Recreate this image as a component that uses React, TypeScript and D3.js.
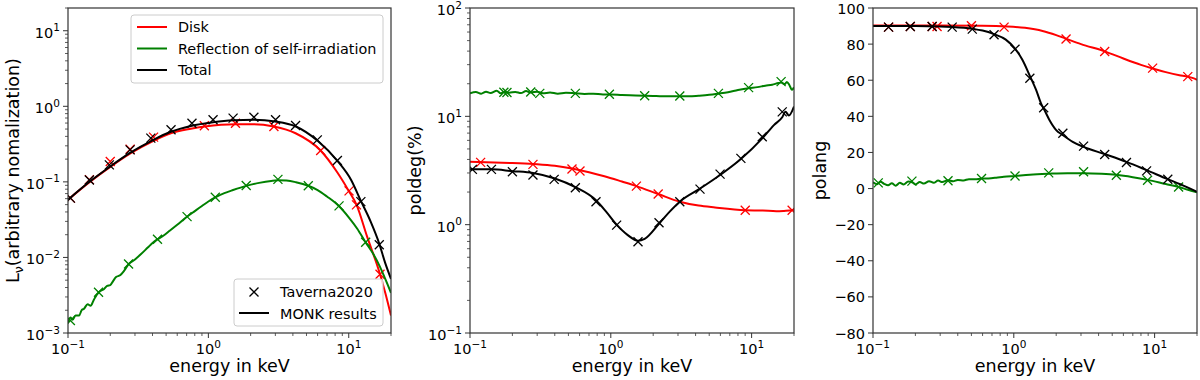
import React, { useEffect, useRef } from "react";
import * as d3 from "d3";

type Pt = [number, number];

// ---- left panel: spectrum (energy keV, L_nu) ----
const specDiskLine: Pt[] = [
  [0.1, 0.058], [0.14, 0.097], [0.2, 0.158], [0.28, 0.24], [0.4, 0.345], [0.54, 0.44],
  [0.75, 0.505], [0.94, 0.54], [1.56, 0.58], [2.1, 0.58], [2.93, 0.54], [4.18, 0.44],
  [6.3, 0.26], [8.3, 0.133], [10, 0.076], [11.35, 0.05], [13.5, 0.019], [16.7, 0.006],
  [18.2, 0.0034], [20, 0.0017],
];
const specReflLine: Pt[] = [
  [0.1, 0.00135], [0.104, 0.0016], [0.108, 0.0015], [0.113, 0.0017], [0.12, 0.0017],
  [0.125, 0.002], [0.13, 0.0021], [0.138, 0.0024], [0.145, 0.0023], [0.152, 0.0027],
  [0.16, 0.0032], [0.17, 0.0036], [0.18, 0.0038], [0.19, 0.0042], [0.2, 0.0043],
  [0.21, 0.0049], [0.22, 0.0055], [0.235, 0.0058], [0.25, 0.0066], [0.27, 0.0081],
  [0.3, 0.0094], [0.33, 0.011], [0.37, 0.0135], [0.4, 0.0155], [0.43, 0.0172],
  [0.48, 0.0195], [0.53, 0.0225], [0.6, 0.027], [0.7, 0.0342], [0.8, 0.041], [0.9, 0.048],
  [1.0, 0.055], [1.12, 0.0625], [1.3, 0.071], [1.5, 0.078], [1.86, 0.0885], [2.3, 0.097],
  [2.8, 0.103], [3.13, 0.105], [3.6, 0.104], [4.2, 0.099], [5.15, 0.089], [6, 0.078],
  [7, 0.064], [8.5, 0.048], [10, 0.034], [11.5, 0.024], [13.2, 0.0158], [15, 0.011],
  [16.7, 0.0075], [18.2, 0.0052], [20, 0.0034],
];
const specTotalLine: Pt[] = [
  [0.1, 0.058], [0.14, 0.098], [0.2, 0.16], [0.28, 0.245], [0.4, 0.355], [0.54, 0.46],
  [0.75, 0.55], [1.08, 0.617], [1.5, 0.655], [2.1, 0.665], [3, 0.63], [4.2, 0.54],
  [6, 0.35], [8.3, 0.19], [10.4, 0.106], [12.2, 0.056], [14.3, 0.03], [16.5, 0.0152],
  [18.2, 0.0084], [20, 0.0052],
];
const specDiskPts: Pt[] = [
  [0.104, 0.061], [0.142, 0.107], [0.2, 0.186], [0.277, 0.271], [0.407, 0.391],
  [0.936, 0.552], [1.56, 0.598], [2.93, 0.54], [6.31, 0.26], [10.05, 0.076],
  [11.35, 0.0496], [16.7, 0.006],
];
const specReflPts: Pt[] = [
  [0.104, 0.00146], [0.165, 0.00346], [0.27, 0.0082], [0.434, 0.0174], [0.705, 0.0347],
  [1.12, 0.0627], [1.86, 0.0894], [3.13, 0.108], [5.15, 0.089], [8.53, 0.0481], [13.2, 0.0159],
];
const specTotalPts: Pt[] = [
  [0.104, 0.061], [0.142, 0.106], [0.197, 0.168], [0.277, 0.265], [0.389, 0.379],
  [0.542, 0.489], [0.764, 0.598], [1.08, 0.663], [1.5, 0.697], [2.11, 0.718], [3.01, 0.663],
  [4.18, 0.557], [5.97, 0.36], [8.3, 0.192], [12.2, 0.0548], [16.5, 0.0147],
];

// ---- middle panel: polarisation degree (%) ----
const degDiskLine: Pt[] = [
  [0.1, 3.8], [0.2, 3.7], [0.3, 3.62], [0.4, 3.5], [0.53, 3.3], [0.7, 3.05], [0.9, 2.8],
  [1.2, 2.5], [1.52, 2.27], [2.17, 1.92], [3.09, 1.63], [4.2, 1.5], [5.5, 1.44], [9.01, 1.36],
  [12, 1.35], [15, 1.33], [17, 1.34], [19.4, 1.36], [20, 1.37],
];
const degReflLine: Pt[] = [
  [0.1, 16.3], [0.11, 16.8], [0.12, 16.2], [0.13, 16.9], [0.14, 16.4], [0.155, 17.2],
  [0.165, 16.3], [0.175, 16.9], [0.19, 16.5], [0.21, 16.8], [0.23, 16.4], [0.25, 17.1],
  [0.27, 16.6], [0.3, 16.9], [0.33, 16.3], [0.37, 16.6], [0.42, 16.2], [0.48, 16.5],
  [0.56, 16.3], [0.65, 16.1], [0.75, 16.2], [0.88, 15.9], [1.0, 15.9], [1.2, 15.7],
  [1.5, 15.6], [1.74, 15.5], [2.1, 15.4], [2.5, 15.3], [3.09, 15.3], [3.6, 15.3], [4.2, 15.5],
  [5, 15.8], [5.8, 16.2], [6.8, 16.7], [8, 17.5], [9.5, 18.2], [11, 18.6], [12.5, 19.2],
  [14, 19.6], [15.5, 20.3], [16.2, 20.5], [17.2, 19.8], [17.8, 20.8], [18.5, 19.6],
  [19.3, 17.6], [20, 18.5],
];
const degTotalLine: Pt[] = [
  [0.1, 3.24], [0.142, 3.24], [0.2, 3.12], [0.28, 3.0], [0.396, 2.68], [0.56, 2.22],
  [0.785, 1.68], [0.926, 1.32], [1.1, 1.0], [1.32, 0.8], [1.56, 0.71], [1.74, 0.74],
  [2.2, 1.02], [2.62, 1.32], [3.09, 1.63], [4.3, 2.15], [5.97, 2.87], [8.39, 4.03],
  [11.9, 6.25], [14.4, 8.3], [16.5, 9.8], [17.4, 11.0], [18.4, 10.2], [20, 12.3],
];
const degDiskPts: Pt[] = [
  [0.119, 3.76], [0.28, 3.6], [0.53, 3.26], [0.604, 3.13], [1.52, 2.27], [2.17, 1.92],
  [9.01, 1.36], [19.4, 1.36],
];
const degReflPts: Pt[] = [
  [0.174, 16.7], [0.183, 16.6], [0.27, 16.8], [0.313, 16.3], [0.56, 16.3], [0.977, 16.0],
  [1.74, 15.5], [3.09, 15.4], [5.81, 16.3], [9.52, 18.4], [16.2, 20.9],
];
const degTotalPts: Pt[] = [
  [0.104, 3.24], [0.142, 3.24], [0.2, 3.08], [0.28, 2.87], [0.396, 2.62], [0.56, 2.19],
  [0.785, 1.63], [1.1, 0.99], [1.56, 0.696], [2.2, 1.04], [3.09, 1.63], [4.3, 2.13],
  [5.97, 2.93], [8.39, 4.09], [11.9, 6.48], [16.5, 11.0],
];

// ---- right panel: polarisation angle ----
const angDiskLine: Pt[] = [
  [0.1, 90.3], [0.3, 90.3], [0.6, 90.2], [0.9, 89.8], [1.2, 89], [1.6, 87.3], [2.0, 85],
  [2.35, 83], [3, 80], [4.42, 76], [6, 72], [8, 68.5], [9.68, 66.5], [12, 64.5], [15, 62.8],
  [17.2, 62], [19, 61], [20, 60.2],
];
const angReflLine: Pt[] = [
  [0.1, 3.5], [0.107, 2.4], [0.113, 3.8], [0.12, 2.6], [0.128, 1.8], [0.136, 2.9],
  [0.145, 1.6], [0.155, 3.2], [0.165, 2.2], [0.178, 3.9], [0.19, 3.4], [0.2, 2.3],
  [0.215, 3.6], [0.23, 2.8], [0.25, 4.1], [0.27, 3.2], [0.29, 4.4], [0.31, 3.6], [0.34, 4.6],
  [0.37, 4.0], [0.4, 4.8], [0.44, 4.5], [0.48, 5.2], [0.53, 5.1], [0.59, 5.5], [0.66, 5.6],
  [0.75, 6.0], [0.85, 6.5], [1.02, 7.0], [1.3, 7.7], [1.77, 8.2], [2.4, 8.5], [3.13, 8.5],
  [4.2, 8.2], [5.35, 7.6], [7, 6.3], [8.91, 4.8], [12, 2.5], [14.8, 0.9], [17, -0.5], [20, -2],
];
const angTotalLine: Pt[] = [
  [0.1, 90.0], [0.2, 90.0], [0.3, 89.8], [0.365, 89.5], [0.507, 88.5], [0.6, 87.5],
  [0.724, 85.5], [0.877, 82.5], [1.02, 77.5], [1.15, 71.3], [1.3, 62.4], [1.44, 54.6],
  [1.56, 47.2], [1.65, 43.5], [1.79, 38], [2.0, 32.4], [2.23, 29.6], [2.62, 25.9],
  [3.13, 23.1], [4.42, 19.1], [6.31, 14.8], [8.77, 10.2], [12.4, 5.2], [15.2, 2.4],
  [17.9, 0], [20, -1.9],
];
const angDiskPts: Pt[] = [
  [0.129, 89.4], [0.184, 89.8], [0.263, 89.8], [0.285, 89.8], [0.5, 90.2], [0.853, 89.4],
  [2.35, 82.8], [4.42, 75.9], [9.68, 66.7], [17.2, 62.0],
];
const angReflPts: Pt[] = [
  [0.109, 3.15], [0.189, 4.1], [0.341, 4.3], [0.59, 5.6], [1.02, 7.0], [1.77, 8.7],
  [3.13, 9.3], [5.35, 7.4], [8.91, 4.6], [14.8, 0.9],
];
const angTotalPts: Pt[] = [
  [0.129, 89.4], [0.184, 89.8], [0.263, 89.8], [0.365, 89.4], [0.507, 88.3], [0.724, 85.2],
  [1.02, 77.2], [1.3, 61.1], [1.63, 44.8], [2.23, 30.6], [3.13, 23.5], [4.42, 18.9],
  [6.31, 14.4], [8.77, 9.8], [12.4, 5.2],
];

// ticks
const energyTickExps = [-1, 0, 1];
const specTickExps = [-3, -2, -1, 0, 1];
const degTickExps = [-1, 0, 1, 2];
const angTicks = [100, 80, 60, 40, 20, 0, -20, -40, -60, -80];

const legendComponents = ["Disk", "Reflection of self-irradiation", "Total"];
const legendSources = ["Taverna2020", "MONK results"];

const RED = "#ff0000";
const GREEN = "#008000";
const BLACK = "#000000";
const FONT = "DejaVu Sans, sans-serif";

const App = () => {
  const svgRef = useRef<SVGSVGElement>(null);

  useEffect(() => {
    const svg = d3.select(svgRef.current);
    svg.selectAll("*").remove();

    const top = 8;
    const bottom = 333;
    const xDomain: [number, number] = [0.1, 20];
    const cross = "M-4.5,-4.5L4.5,4.5M-4.5,4.5L4.5,-4.5";

    const minorLog = (lo: number, hi: number) => {
      const out: number[] = [];
      for (let e = Math.floor(Math.log10(lo)); e <= Math.ceil(Math.log10(hi)); e++) {
        for (let m = 2; m <= 9; m++) {
          const v = m * Math.pow(10, e);
          if (v >= lo * 0.999 && v <= hi * 1.001) out.push(v);
        }
      }
      return out;
    };

    const supText = (t: any, exp: number) => {
      t.append("tspan").text("10");
      t.append("tspan")
        .attr("dy", -6.5)
        .style("font-size", "10.5px")
        .text(exp < 0 ? "\u2212" + -exp : String(exp));
    };

    const drawPanel = (opts: {
      id: string;
      left: number;
      right: number;
      y: any;
      yLog: boolean;
      yTicks: number[];
      yMinor: number[];
      series: { line: Pt[]; pts: Pt[]; color: string }[];
      ylabel: (t: any) => void;
      ylabelX: number;
    }) => {
      const x = d3.scaleLog().domain(xDomain).range([opts.left, opts.right]);
      const y = opts.y;
      const g = svg.append("g");

      g.append("clipPath")
        .attr("id", opts.id)
        .append("rect")
        .attr("x", opts.left)
        .attr("y", top)
        .attr("width", opts.right - opts.left)
        .attr("height", bottom - top);

      const plot = g.append("g").attr("clip-path", `url(#${opts.id})`);
      const line = d3
        .line<Pt>()
        .x((d) => x(d[0]))
        .y((d) => y(d[1]))
        .curve(d3.curveMonotoneX);

      opts.series.forEach((s) => {
        plot
          .append("path")
          .attr("d", line(s.line))
          .attr("fill", "none")
          .attr("stroke", s.color)
          .attr("stroke-width", 2);
        plot
          .selectAll(null)
          .data(s.pts)
          .enter()
          .append("path")
          .attr("d", cross)
          .attr("transform", (d) => `translate(${x(d[0])},${y(d[1])})`)
          .attr("fill", "none")
          .attr("stroke", s.color)
          .attr("stroke-width", 1.3);
      });

      // frame
      g.append("rect")
        .attr("x", opts.left)
        .attr("y", top)
        .attr("width", opts.right - opts.left)
        .attr("height", bottom - top)
        .attr("fill", "none")
        .attr("stroke", "#333")
        .attr("stroke-width", 1.2);

      // x ticks
      energyTickExps.forEach((e) => {
        const px = x(Math.pow(10, e));
        g.append("line")
          .attr("x1", px).attr("x2", px)
          .attr("y1", bottom).attr("y2", bottom + 5)
          .attr("stroke", "#333");
        const t = g
          .append("text")
          .attr("x", px)
          .attr("y", bottom + 21)
          .attr("text-anchor", "middle")
          .style("font-family", FONT)
          .style("font-size", "14.5px")
          .attr("fill", "#000");
        supText(t, e);
      });
      minorLog(xDomain[0], xDomain[1]).forEach((v) => {
        const px = x(v);
        g.append("line")
          .attr("x1", px).attr("x2", px)
          .attr("y1", bottom).attr("y2", bottom + 3)
          .attr("stroke", "#333")
          .attr("stroke-width", 0.8);
      });

      // y ticks
      opts.yTicks.forEach((v) => {
        const py = y(opts.yLog ? Math.pow(10, v) : v);
        g.append("line")
          .attr("x1", opts.left - 5).attr("x2", opts.left)
          .attr("y1", py).attr("y2", py)
          .attr("stroke", "#333");
        const t = g
          .append("text")
          .attr("x", opts.left - 8)
          .attr("y", py + (opts.yLog ? 7 : 5.5))
          .attr("text-anchor", "end")
          .style("font-family", FONT)
          .style("font-size", "14.5px")
          .attr("fill", "#000");
        if (opts.yLog) supText(t, v);
        else t.text(v < 0 ? "\u2212" + -v : String(v));
      });
      opts.yMinor.forEach((v) => {
        const py = y(v);
        g.append("line")
          .attr("x1", opts.left - 3).attr("x2", opts.left)
          .attr("y1", py).attr("y2", py)
          .attr("stroke", "#333")
          .attr("stroke-width", 0.8);
      });

      // axis labels
      g.append("text")
        .attr("x", (opts.left + opts.right) / 2)
        .attr("y", 372)
        .attr("text-anchor", "middle")
        .style("font-family", FONT)
        .style("font-size", "17.5px")
        .text("energy in keV");

      const yl = g
        .append("text")
        .attr("transform", `translate(${opts.ylabelX},${(top + bottom) / 2}) rotate(-90)`)
        .attr("text-anchor", "middle")
        .style("font-family", FONT)
        .style("font-size", "17.5px");
      opts.ylabel(yl);
    };

    // left panel
    drawPanel({
      id: "clipSpec",
      left: 68,
      right: 391,
      y: d3.scaleLog().domain([1e-3, 20]).range([bottom, top]),
      yLog: true,
      yTicks: specTickExps,
      yMinor: minorLog(1e-3, 20),
      series: [
        { line: specDiskLine, pts: specDiskPts, color: RED },
        { line: specReflLine, pts: specReflPts, color: GREEN },
        { line: specTotalLine, pts: specTotalPts, color: BLACK },
      ],
      ylabel: (t) => {
        t.append("tspan").text("L");
        t.append("tspan").attr("dy", 4).style("font-size", "12.5px").text("\u03bd");
        t.append("tspan").attr("dy", -4).text("(arbitrary nomalization)");
      },
      ylabelX: 19,
    });

    // middle panel
    drawPanel({
      id: "clipDeg",
      left: 470,
      right: 794,
      y: d3.scaleLog().domain([0.1, 100]).range([bottom, top]),
      yLog: true,
      yTicks: degTickExps,
      yMinor: minorLog(0.1, 100),
      series: [
        { line: degDiskLine, pts: degDiskPts, color: RED },
        { line: degReflLine, pts: degReflPts, color: GREEN },
        { line: degTotalLine, pts: degTotalPts, color: BLACK },
      ],
      ylabel: (t) => t.text("poldeg(%)"),
      ylabelX: 421,
    });

    // right panel
    drawPanel({
      id: "clipAng",
      left: 873,
      right: 1197,
      y: d3.scaleLinear().domain([-80, 100]).range([bottom, top]),
      yLog: false,
      yTicks: angTicks,
      yMinor: [],
      series: [
        { line: angDiskLine, pts: angDiskPts, color: RED },
        { line: angReflLine, pts: angReflPts, color: GREEN },
        { line: angTotalLine, pts: angTotalPts, color: BLACK },
      ],
      ylabel: (t) => t.text("polang"),
      ylabelX: 826,
    });

    // legend: components
    const leg1 = svg.append("g");
    leg1.append("rect")
      .attr("x", 131).attr("y", 15).attr("width", 252).attr("height", 68)
      .attr("rx", 3)
      .attr("fill", "#fff").attr("fill-opacity", 0.8)
      .attr("stroke", "#ccc");
    const compColors = [RED, GREEN, BLACK];
    legendComponents.forEach((name, i) => {
      const ly = 27 + i * 21.5;
      leg1.append("line")
        .attr("x1", 137).attr("x2", 167).attr("y1", ly).attr("y2", ly)
        .attr("stroke", compColors[i]).attr("stroke-width", 2);
      leg1.append("text")
        .attr("x", 178).attr("y", ly + 5)
        .style("font-family", FONT).style("font-size", "14.4px")
        .text(name);
    });

    // legend: sources
    const leg2 = svg.append("g");
    leg2.append("rect")
      .attr("x", 234).attr("y", 279).attr("width", 149).attr("height", 47)
      .attr("rx", 3)
      .attr("fill", "#fff").attr("fill-opacity", 0.8)
      .attr("stroke", "#ccc");
    leg2.append("path")
      .attr("d", cross)
      .attr("transform", "translate(254,292)")
      .attr("fill", "none").attr("stroke", BLACK).attr("stroke-width", 1.3);
    leg2.append("line")
      .attr("x1", 239).attr("x2", 269).attr("y1", 313).attr("y2", 313)
      .attr("stroke", BLACK).attr("stroke-width", 2);
    legendSources.forEach((name, i) => {
      leg2.append("text")
        .attr("x", 280).attr("y", 292 + i * 21.5 + 5)
        .style("font-family", FONT).style("font-size", "14.4px")
        .text(name);
    });
  }, []);

  return (
    <svg
      ref={svgRef}
      width={1200}
      height={380}
      style={{ position: "absolute", left: 0, top: 0, background: "#fff" }}
    ></svg>
  );
};

export default App;
